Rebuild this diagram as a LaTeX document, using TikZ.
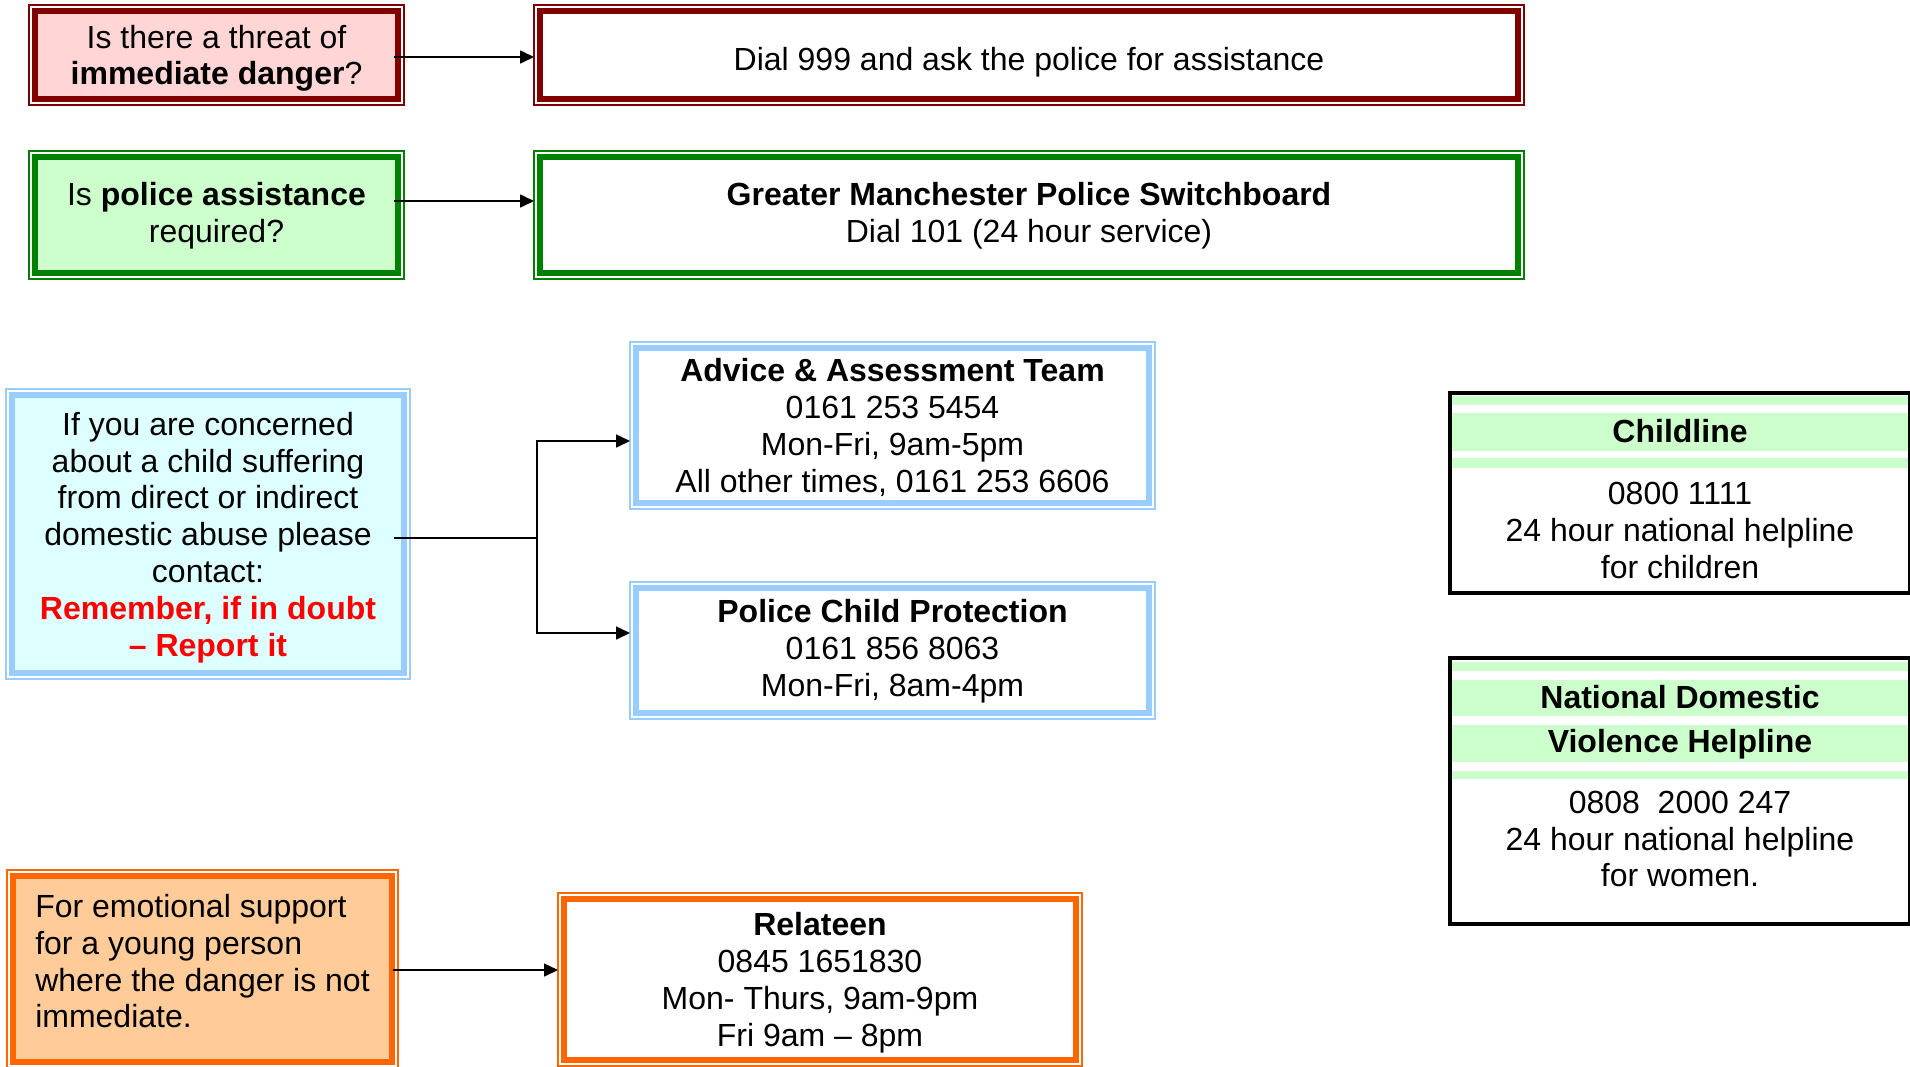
\documentclass[tikz,border=0pt]{standalone}
\usepackage{fontspec}
\setmainfont{Liberation Sans}
\usetikzlibrary{arrows.meta,calc}
\definecolor{dred}{HTML}{800000}
\definecolor{pinkf}{HTML}{FFD5D5}
\definecolor{dgreen}{HTML}{008000}
\definecolor{lgreen}{HTML}{CCFFCC}
\definecolor{lblue}{HTML}{99CCFF}
\definecolor{lcyan}{HTML}{DDFFFF}
\definecolor{orng}{HTML}{FF6600}
\definecolor{lorng}{HTML}{FFCC99}
\definecolor{txtred}{HTML}{FF0000}
\tikzset{
  txt/.style={font=\fontsize{32}{36.8}\selectfont, align=center, text=black, text depth=0pt, inner sep=0pt},
  dbl/.style n args={2}{txt, rectangle, draw=#1, line width=1.3pt, fill=white, outer sep=0pt,
    path picture={\draw[draw=#1, line width=6pt, fill=#2]
      ([xshift=6pt,yshift=-6pt]path picture bounding box.north west) rectangle
      ([xshift=-6pt,yshift=6pt]path picture bounding box.south east);}},
  plainbox/.style={rectangle, draw=black, line width=3.5pt, fill=white, inner sep=0pt, outer sep=0pt},
  band/.style={fill=lgreen},
  arr/.style={draw=black, line width=1.6pt, -{Triangle[length=14pt,width=13pt]}},
  link/.style={draw=black, line width=1.6pt},
}
\begin{document}
\begin{tikzpicture}[x=1pt,y=-1pt]
\useasboundingbox (0,0) rectangle (1910,1066);

% Row A
\node[dbl={dred}{pinkf}, minimum width=375pt, minimum height=100pt] (A1) at (216.5,55)
  {Is there a threat of\\ \textbf{immediate danger}?};
\node[dbl={dred}{white}, minimum width=990pt, minimum height=100pt, text height=30.5pt] (A2) at (1029,55)
  {Dial 999 and ask the police for assistance};

% Row B
\node[dbl={dgreen}{lgreen}, minimum width=375pt, minimum height=128pt, text depth=5pt] (B1) at (216.5,215)
  {Is \textbf{police assistance}\\ required?};
\node[dbl={dgreen}{white}, minimum width=990pt, minimum height=128pt, text depth=5pt] (B2) at (1029,215)
  {\textbf{Greater Manchester Police Switchboard}\\ Dial 101 (24 hour service)};

% Row C
\node[dbl={lblue}{lcyan}, minimum width=404pt, minimum height=290pt] (C1) at (208,534)
  {If you are concerned\\ about a child suffering\\ from direct or indirect\\ domestic abuse please\\ contact:\\
   \textcolor{txtred}{\textbf{Remember, if in doubt}}\\ \textcolor{txtred}{\textbf{– Report it}}};
\node[dbl={lblue}{white}, minimum width=525pt, minimum height=167pt] (C2) at (892.5,425.5)
  {\textbf{Advice \& Assessment Team}\\ 0161 253 5454\\ Mon-Fri, 9am-5pm\\ All other times, 0161 253 6606};
\node[dbl={lblue}{white}, minimum width=525pt, minimum height=137pt, text depth=5pt] (C3) at (892.5,650.5)
  {\textbf{Police Child Protection}\\ 0161 856 8063\\ Mon-Fri, 8am-4pm};

% Row E
\node[dbl={orng}{lorng}, minimum width=391pt, minimum height=198pt, align=left, text depth=16pt] (E1) at (202.5,969)
  {For emotional support\\ for a young person\\ where the danger is not\\ immediate.};
\node[dbl={orng}{white}, minimum width=524pt, minimum height=173pt] (E2) at (820,979.5)
  {\textbf{Relateen}\\ 0845 1651830\\ Mon- Thurs, 9am-9pm\\ Fri 9am – 8pm};

% Right column: Childline
\node[plainbox, minimum width=460pt, minimum height=200pt] (D1) at (1680,493) {};
\fill[band] (1452,396) rectangle (1908,405);
\fill[band] (1452,413) rectangle (1908,451);
\fill[band] (1452,458) rectangle (1908,468);
\node[txt] (D1h) at (1680,431) {\textbf{Childline}};
\node[txt] (D1b) at (1680,530.5) {0800 1111\\ 24 hour national helpline\\ for children};

% Right column: National Domestic Violence Helpline
\node[plainbox, minimum width=460pt, minimum height=266pt] (D2) at (1680,791) {};
\fill[band] (1452,662) rectangle (1908,671);
\fill[band] (1452,680) rectangle (1908,716);
\fill[band] (1452,724.5) rectangle (1908,762);
\fill[band] (1452,770.5) rectangle (1908,779);
\node[txt] (D2h1) at (1680,697) {\textbf{National Domestic}};
\node[txt] (D2h2) at (1680,741) {\textbf{Violence Helpline}};
\node[txt] (D2b) at (1680,839) {0808\ \ 2000 247\\ 24 hour national helpline\\ for women.};

% Connectors
\draw[arr] ($(A1.east |- 0,57)+(-10,0)$) -- (A2.west |- 0,57);
\draw[arr] ($(B1.east |- 0,201)+(-10,0)$) -- (B2.west |- 0,201);
\coordinate (cj) at (537,538);
\draw[link] ($(C1.east |- cj)+(-16,0)$) -- (cj);
\draw[arr] (cj) |- (C2.west |- 0,441);
\draw[arr] (cj) |- (C3.west |- 0,633);
\draw[arr] ($(E1.east |- 0,970)+(-5,0)$) -- (E2.west |- 0,970);
\end{tikzpicture}
\end{document}
